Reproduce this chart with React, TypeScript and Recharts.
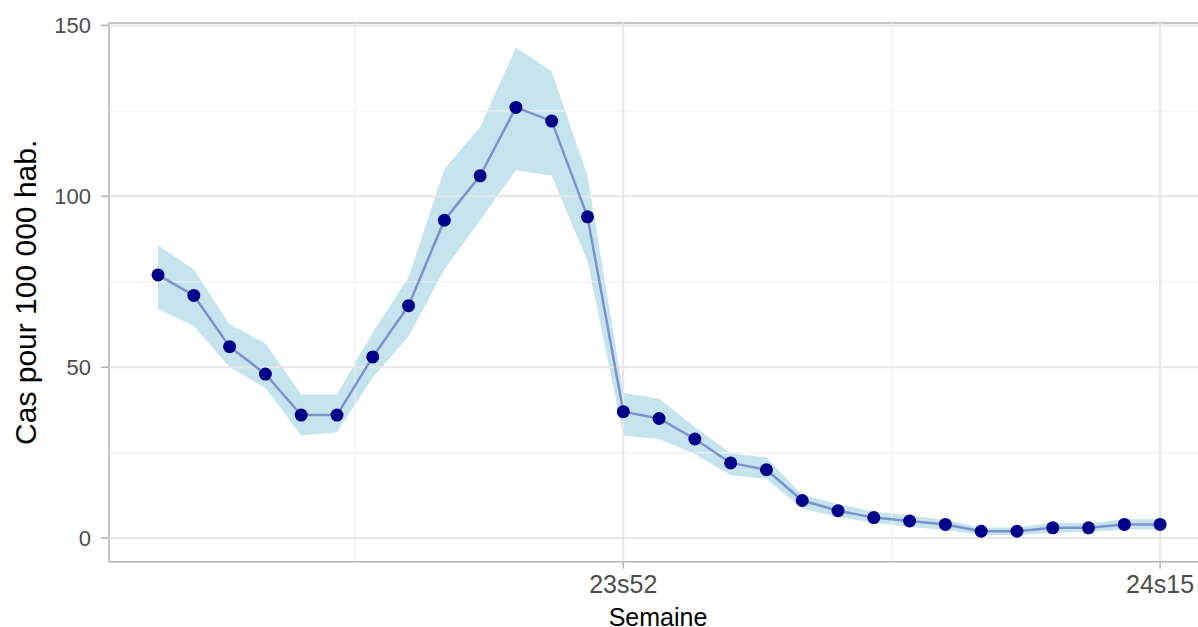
import React from 'react';
import {
  ComposedChart,
  Area,
  Line,
  XAxis,
  YAxis,
  ReferenceLine,
  ReferenceArea
} from 'recharts';

// Weekly incidence per 100 000 inhabitants with its confidence band
const weeks = [
  '23s39', '23s40', '23s41', '23s42', '23s43', '23s44', '23s45', '23s46',
  '23s47', '23s48', '23s49', '23s50', '23s51', '23s52', '24s01', '24s02',
  '24s03', '24s04', '24s05', '24s06', '24s07', '24s08', '24s09', '24s10',
  '24s11', '24s12', '24s13', '24s14', '24s15'
];
const rate = [77, 71, 56, 48, 36, 36, 53, 68, 93, 106, 126, 122, 94, 37, 35, 29, 22, 20, 11, 8, 6, 5, 4, 2, 2, 3, 3, 4, 4];
const lower = [67, 62, 50, 44, 30, 31, 47, 59, 78.5, 93, 107.6, 106, 81, 30, 29, 24.6, 18.4, 17.3, 8.7, 6.2, 4.5, 3.3, 2.3, 0.9, 0.9, 1.6, 1.8, 2.5, 2.5];
const upper = [85.7, 78.6, 62.6, 57, 42, 42, 60.2, 76.3, 108, 120.3, 143.5, 136.6, 106, 42.5, 40.8, 32.5, 24.8, 23.6, 12.6, 10, 7.7, 6.7, 5.3, 3.1, 3.1, 4.6, 4.3, 5.5, 5.5];

const xTickLabels = ['23s52', '24s15'];
const yTicks = [0, 50, 100, 150];
const yMinor = [25, 75, 125];

const xDomain: [number, number] = [-1.37, 29.31];
const yDomain: [number, number] = [-6.9, 150.7];

const FONT = '"Liberation Sans", Arial, sans-serif';
const BORDER = '#b3b3b3';
const GRID_MAJOR = '#e6e6e6';
const GRID_MINOR = '#f0f0f0';

const data = weeks.map((week, i) => ({
  i,
  week,
  rate: rate[i],
  band: [lower[i], upper[i]]
}));

const xTicks = xTickLabels.map((l) => weeks.indexOf(l));
const xStep = xTicks[1] - xTicks[0];
const xMinor = xTicks.map((t) => t - xStep / 2);

const YTitle = (props: any) => {
  const { viewBox } = props;
  const cx = 36;
  const cy = viewBox.y + viewBox.height / 2;
  return (
    <text
      x={cx}
      y={cy}
      transform={`rotate(-90 ${cx} ${cy})`}
      textAnchor="middle"
      fontSize={30}
      fontFamily={FONT}
      fill="#000"
    >
      Cas pour 100 000 hab.
    </text>
  );
};

const XTitle = (props: any) => {
  const { viewBox } = props;
  return (
    <text
      x={viewBox.x + viewBox.width / 2}
      y={viewBox.y + viewBox.height - 1}
      textAnchor="middle"
      fontSize={25}
      fontFamily={FONT}
      fill="#000"
    >
      Semaine
    </text>
  );
};

export default function App() {
  return (
    <div
      style={{
        position: 'fixed',
        left: 0,
        top: 0,
        width: 1198,
        height: 627,
        overflow: 'hidden',
        background: '#fff'
      }}
    >
      <ComposedChart
        width={1220}
        height={627}
        data={data}
        margin={{ top: 23, right: 13, bottom: 0, left: 0 }}
      >
        {yMinor.map((v) => (
          <ReferenceLine key={`ym${v}`} y={v} stroke={GRID_MINOR} strokeWidth={1.2} />
        ))}
        {xMinor.map((v) => (
          <ReferenceLine key={`xm${v}`} x={v} stroke={GRID_MINOR} strokeWidth={1.2} />
        ))}
        {yTicks.map((v) => (
          <ReferenceLine key={`y${v}`} y={v} stroke={GRID_MAJOR} strokeWidth={2} />
        ))}
        {xTicks.map((v) => (
          <ReferenceLine key={`x${v}`} x={v} stroke={GRID_MAJOR} strokeWidth={2} />
        ))}
        <XAxis
          type="number"
          dataKey="i"
          domain={xDomain}
          allowDataOverflow
          ticks={xTicks}
          tickFormatter={(v) => weeks[v]}
          axisLine={false}
          tickLine={{ stroke: BORDER, strokeWidth: 1.5 }}
          tickSize={7}
          tickMargin={7}
          height={65.3}
          tick={{ fill: '#4d4d4d', fontSize: 25, fontFamily: FONT }}
          label={(p: any) => <XTitle {...p} />}
        />
        <YAxis
          type="number"
          domain={yDomain}
          allowDataOverflow
          ticks={yTicks}
          axisLine={false}
          tickLine={{ stroke: BORDER, strokeWidth: 1.5 }}
          tickSize={8}
          tickMargin={10}
          width={109}
          tick={{ fill: '#4d4d4d', fontSize: 22, fontFamily: FONT }}
          label={(p: any) => <YTitle {...p} />}
        />
        <Area
          type="linear"
          dataKey="band"
          stroke="none"
          fill="#add8e6"
          fillOpacity={0.7}
          isAnimationActive={false}
        />
        <Line
          type="linear"
          dataKey="rate"
          stroke="#7b93cc"
          strokeWidth={2.5}
          dot={{ r: 6.5, fill: '#00008b', stroke: 'none' }}
          activeDot={false}
          isAnimationActive={false}
        />
        <ReferenceArea
          x1={xDomain[0]}
          x2={xDomain[1]}
          y1={yDomain[0]}
          y2={yDomain[1]}
          fill="none"
          stroke={BORDER}
          strokeWidth={1.5}
        />
      </ComposedChart>
    </div>
  );
}
